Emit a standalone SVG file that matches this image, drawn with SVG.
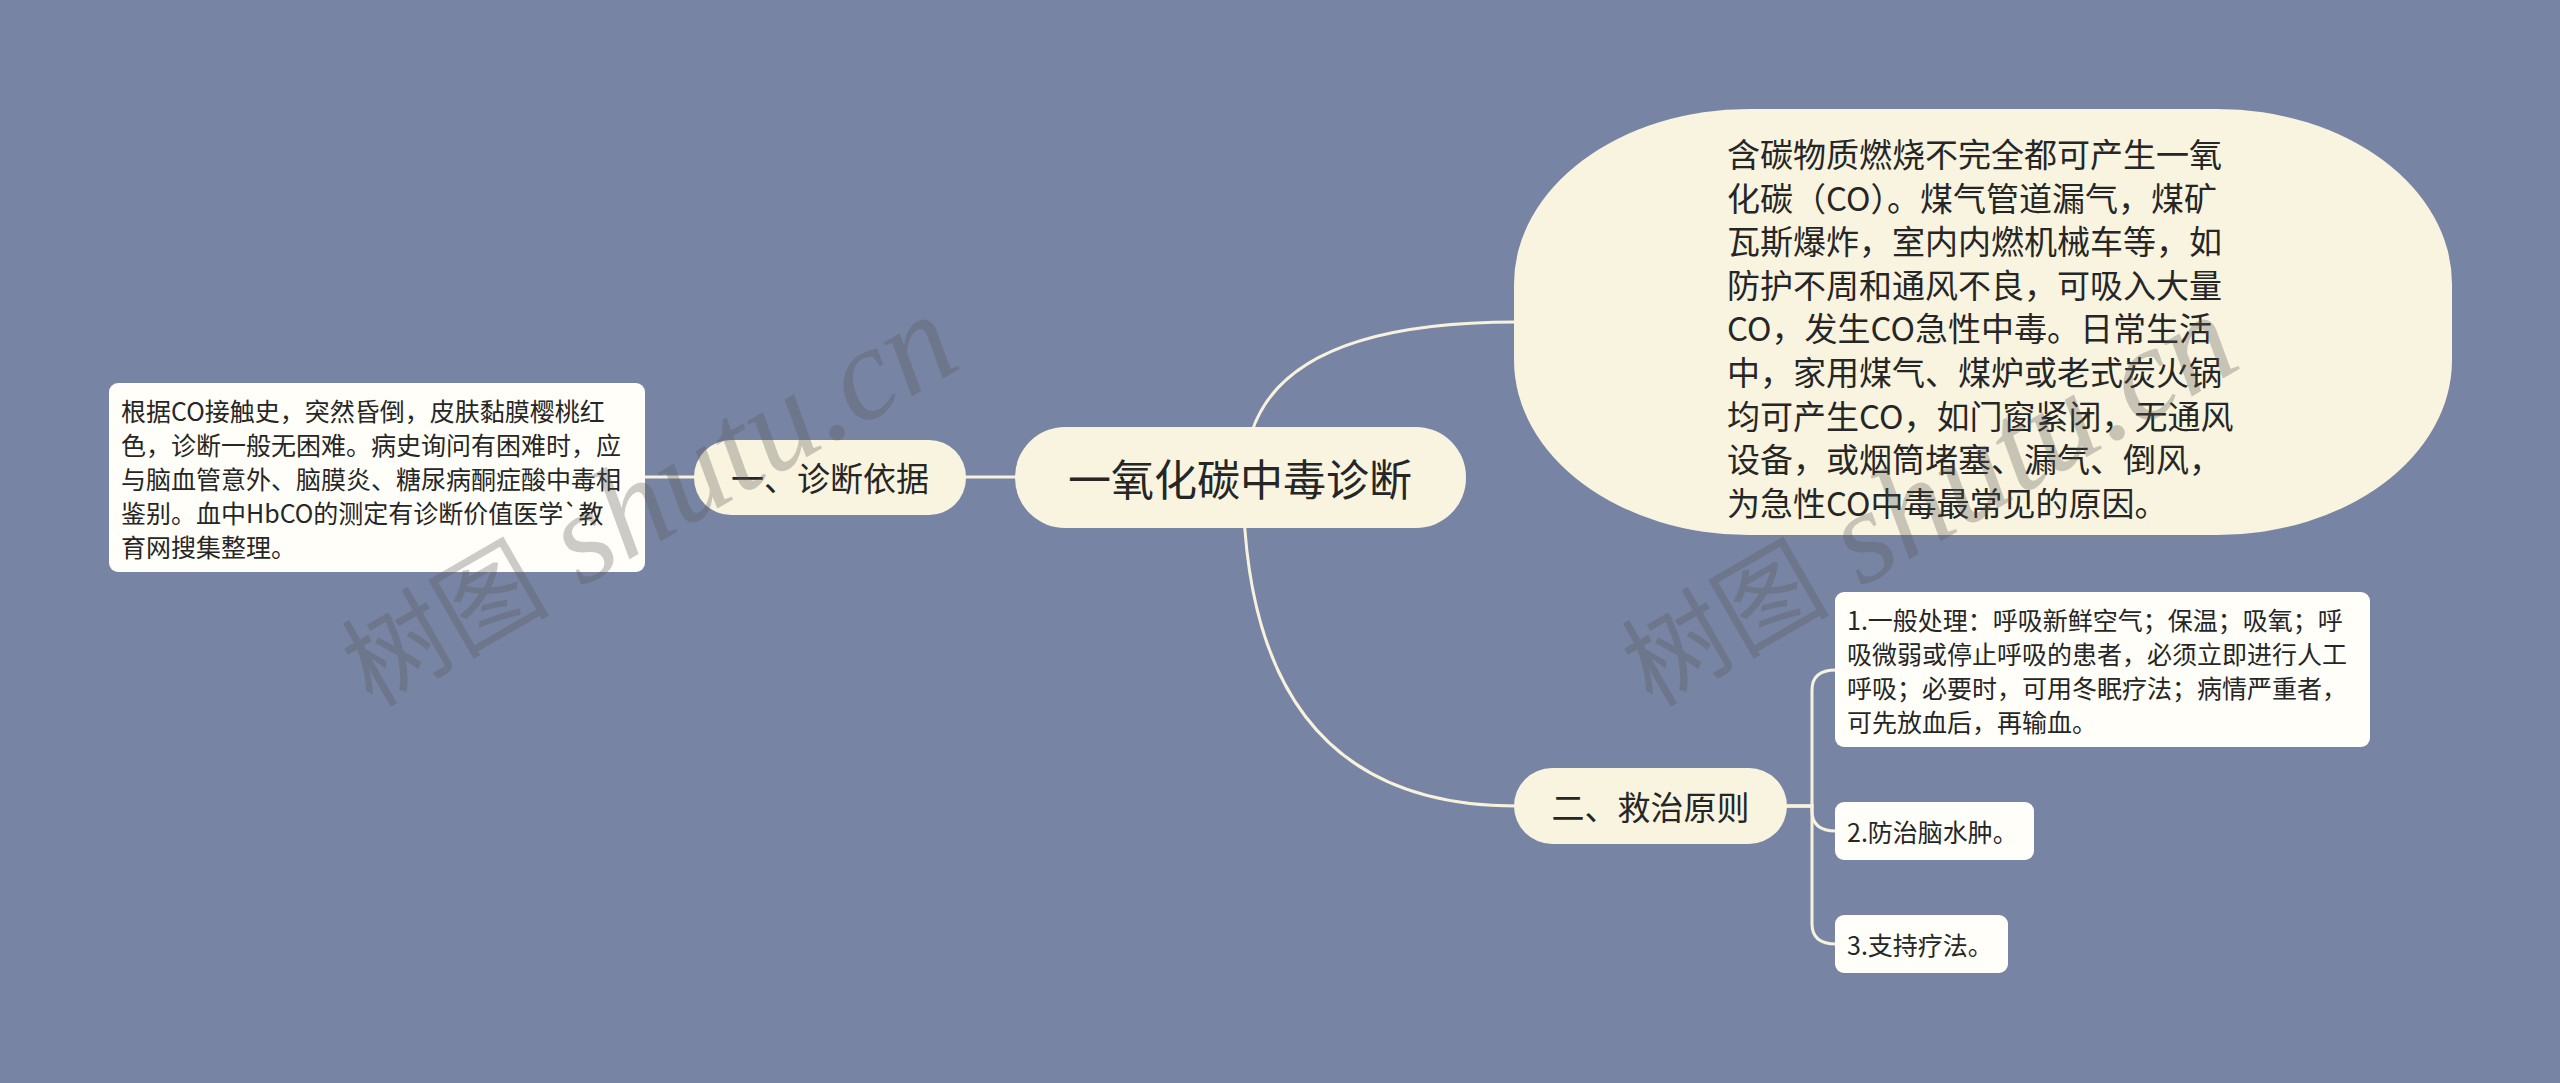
<svg xmlns="http://www.w3.org/2000/svg" width="2560" height="1083" viewBox="0 0 2560 1083">
<style>
  .bg { fill: #7784a3; }
  .pill { fill: #f8f4e0; }
  .box { fill: #fffef8; }
  .conn { fill: none; stroke: #f7f2de; stroke-width: 3; stroke-linecap: round; }
  text { font-family: "Noto Sans CJK SC", "Noto Sans", sans-serif; fill: #262626; dominant-baseline: central; }
  .root { font-size: 43px; text-anchor: middle; }
  .l1 { font-size: 33px; text-anchor: middle; }
  .big { font-size: 33px; }
  .sm { font-size: 25px; }
  .wm { font-family: "Liberation Serif", "Noto Sans CJK SC", serif; fill: #555555; fill-opacity: 0.3; dominant-baseline: alphabetic; }
</style>
<rect class="bg" x="0" y="0" width="2560" height="1083"/>

<g id="connectors">
  <path class="conn" d="M 1015 477 H 966"/>
  <path class="conn" d="M 694 477 H 645"/>
  <path class="conn" d="M 1245 477 Q 1245 322 1516 322"/>
  <path class="conn" d="M 1243 477 Q 1243 806 1516 806"/>
  <path class="conn" d="M 1787 806 H 1812 V 690 Q 1812 670 1836 670"/>
  <path class="conn" d="M 1787 806 H 1812 V 811 Q 1812 831 1836 831"/>
  <path class="conn" d="M 1787 806 H 1812 V 924 Q 1812 944 1836 944"/>
</g>

<g id="root">
  <rect class="pill" x="1015" y="427" width="451" height="101" rx="50" ry="50"/>
  <text class="root" x="1240" y="477">一氧化碳中毒诊断</text>
</g>

<g id="node-diag">
  <rect class="pill" x="694" y="440" width="272" height="75" rx="37" ry="37"/>
  <text class="l1" x="830" y="477">一、诊断依据</text>
</g>

<g id="node-diag-text">
  <rect class="box" x="109" y="383" width="536" height="189" rx="9" ry="9"/>
  <text class="sm" x="121" y="409.5">根据CO接触史，突然昏倒，皮肤黏膜樱桃红</text>
  <text class="sm" x="121" y="443.5">色，诊断一般无困难。病史询问有困难时，应</text>
  <text class="sm" x="121" y="477.5">与脑血管意外、脑膜炎、糖尿病酮症酸中毒相</text>
  <text class="sm" x="121" y="511.5">鉴别。血中HbCO的测定有诊断价值医学`教</text>
  <text class="sm" x="121" y="545.5">育网搜集整理。</text>
</g>

<g id="node-cause">
  <rect class="pill" x="1514" y="109" width="938" height="426" rx="235" ry="175"/>
  <text class="big" x="1727" y="153">含碳物质燃烧不完全都可产生一氧</text>
  <text class="big" x="1727" y="196.6">化碳（CO）。煤气管道漏气，煤矿</text>
  <text class="big" x="1727" y="240.2">瓦斯爆炸，室内内燃机械车等，如</text>
  <text class="big" x="1727" y="283.8">防护不周和通风不良，可吸入大量</text>
  <text class="big" x="1727" y="327.4">CO，发生CO急性中毒。日常生活</text>
  <text class="big" x="1727" y="371">中，家用煤气、煤炉或老式炭火锅</text>
  <text class="big" x="1727" y="414.6">均可产生CO，如门窗紧闭，无通风</text>
  <text class="big" x="1727" y="458.2">设备，或烟筒堵塞、漏气、倒风，</text>
  <text class="big" x="1727" y="501.8">为急性CO中毒最常见的原因。</text>
</g>

<g id="node-treat">
  <rect class="pill" x="1514" y="768" width="273" height="76" rx="38" ry="38"/>
  <text class="l1" x="1650.5" y="806">二、救治原则</text>
</g>

<g id="node-treat-1">
  <rect class="box" x="1835" y="592" width="535" height="155" rx="9" ry="9"/>
  <text class="sm" x="1847" y="618.5">1.一般处理：呼吸新鲜空气；保温；吸氧；呼</text>
  <text class="sm" x="1847" y="652.5">吸微弱或停止呼吸的患者，必须立即进行人工</text>
  <text class="sm" x="1847" y="686.5">呼吸；必要时，可用冬眠疗法；病情严重者，</text>
  <text class="sm" x="1847" y="720.5">可先放血后，再输血。</text>
</g>

<g id="node-treat-2">
  <rect class="box" x="1835" y="802" width="199" height="58" rx="9" ry="9"/>
  <text class="sm" x="1847" y="831">2.防治脑水肿。</text>
</g>

<g id="node-treat-3">
  <rect class="box" x="1835" y="915" width="173" height="58" rx="9" ry="9"/>
  <text class="sm" x="1847" y="944">3.支持疗法。</text>
</g>

<g id="watermarks">
  <text class="wm" transform="translate(372 708) rotate(-30)"><tspan font-size="104">树图</tspan><tspan font-size="132" font-style="italic"> shutu.cn</tspan></text>
  <text class="wm" transform="translate(1652 708) rotate(-30)"><tspan font-size="104">树图</tspan><tspan font-size="132" font-style="italic"> shutu.cn</tspan></text>
</g>
</svg>
